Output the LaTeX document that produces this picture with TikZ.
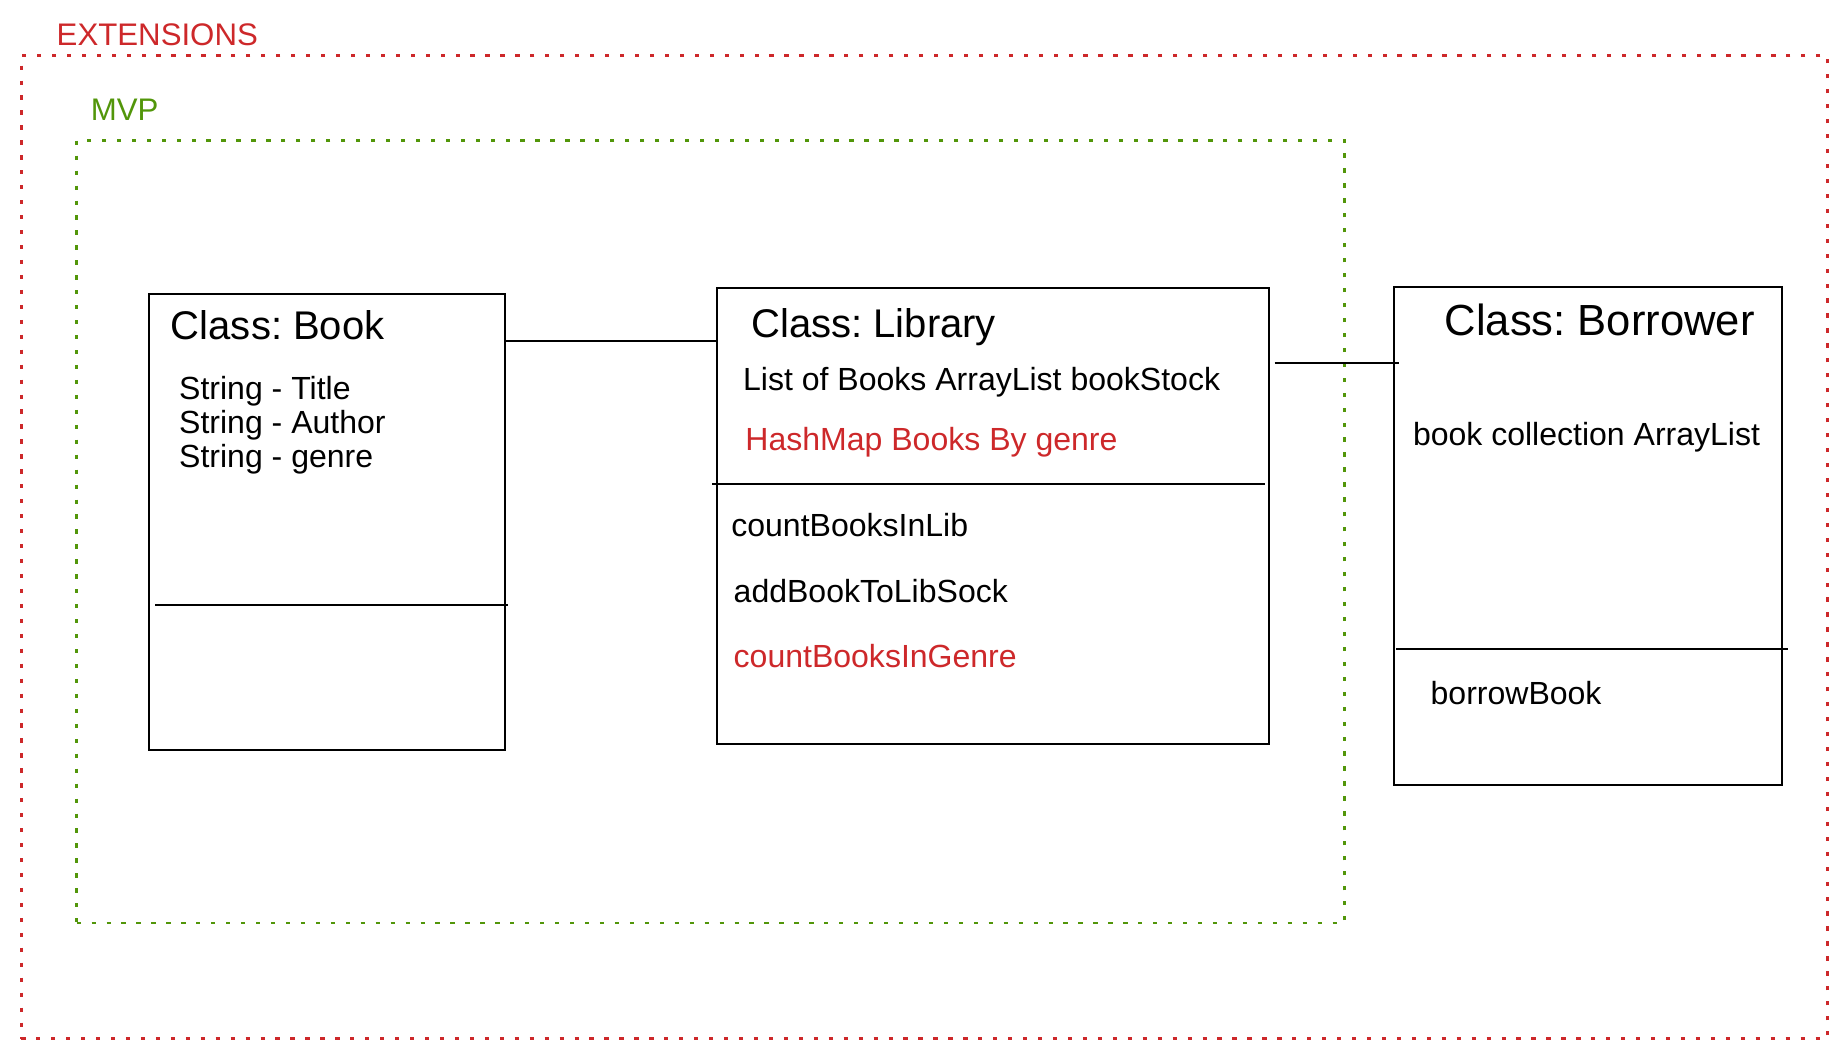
\documentclass[tikz,border=0pt]{standalone}
\usepackage{fontspec}
\setmainfont{Liberation Sans}
\usepackage{tikz}
\usetikzlibrary{calc}
\frenchspacing
\definecolor{extred}{RGB}{205,40,42}
\definecolor{mvpgreen}{RGB}{82,150,10}
\tikzstyle{classbox} = [draw, line width=1.7pt, inner sep=0pt, anchor=north west]
\tikzstyle{frame} = [draw, line width=2.2pt, dash pattern=on 3.6pt off 9.1pt, inner sep=0pt, anchor=north west]
\tikzstyle{member} = [inner sep=0pt, anchor=base west, font=\fontsize{27.2}{32}\selectfont]
\tikzstyle{title} = [inner sep=0pt, anchor=base west, font=\fontsize{34}{40}\selectfont]
\tikzstyle{framelabel} = [inner sep=0pt, anchor=base west, font=\fontsize{26.5}{32}\selectfont]

\begin{document}
\begin{tikzpicture}[x=1pt, y=-1pt]
	\useasboundingbox (0,0) rectangle (1568,898);
	\node [frame, color=extred, minimum width=1534pt, minimum height=835pt] (ext) at (17,46) {};
	\node [framelabel, text=extred] (extlabel) at (48,39) {EXTENSIONS};
	\node [frame, color=mvpgreen, minimum width=1077pt, minimum height=665pt] (mvp) at (64,118) {};
	\node [framelabel, text=mvpgreen] (mvplabel) at (77,102) {MVP};

	\node [classbox, minimum width=302pt, minimum height=387pt] (book) at (126,249) {};
	\node [title] (booktitle) at (145,288) {Class: Book};
	\node [member] (bookname) at (152,339) {String - Title};
	\node [member] (bookauthor) at (152,368) {String - Author};
	\node [member] (bookgenre) at (152,397) {String - genre};
	\coordinate (bookdiv) at (0,514);
	\draw [line width=1.7pt] ([xshift=6pt]book.west |- bookdiv) -- ([xshift=2pt]book.east |- bookdiv);

	\node [classbox, minimum width=469pt, minimum height=387pt] (library) at (608,244) {};
	\node [title] (libtitle) at (638,287) {Class: Library};
	\node [member] (libstock) at (631,332) {List of Books ArrayList bookStock};
	\node [member, text=extred] (libgenre) at (633,383) {HashMap Books By genre};
	\coordinate (libdiv) at (0,411);
	\draw [line width=1.7pt] ([xshift=-3pt]library.west |- libdiv) -- ([xshift=-4pt]library.east |- libdiv);
	\node [member] (libcount) at (621,456) {countBooksInLib};
	\node [member] (libadd) at (623,512) {addBookToLibSock};
	\node [member, text=extred] (libcountgenre) at (623,567) {countBooksInGenre};

	\node [classbox, minimum width=330pt, minimum height=423pt] (borrower) at (1183,243) {};
	\node [title, font=\fontsize{37}{44}\selectfont] (borrowertitle) at (1227,285) {Class: Borrower};
	\node [member] (borrowerlist) at (1200,378) {book collection ArrayList};
	\coordinate (borrowerdiv) at (0,551);
	\draw [line width=1.7pt] ([xshift=3pt]borrower.west |- borrowerdiv) -- ([xshift=4pt]borrower.east |- borrowerdiv);
	\node [member] (borrowbook) at (1215,598) {borrowBook};

	\coordinate (booklink) at (0,290);
	\coordinate (borrowlink) at (0,308);
	\draw [line width=1.7pt] (book.east |- booklink) -- ([xshift=2pt]library.west |- booklink);
	\draw [line width=1.7pt] ([xshift=4pt]library.east |- borrowlink) -- ([xshift=5pt]borrower.west |- borrowlink);
\end{tikzpicture}
\end{document}
